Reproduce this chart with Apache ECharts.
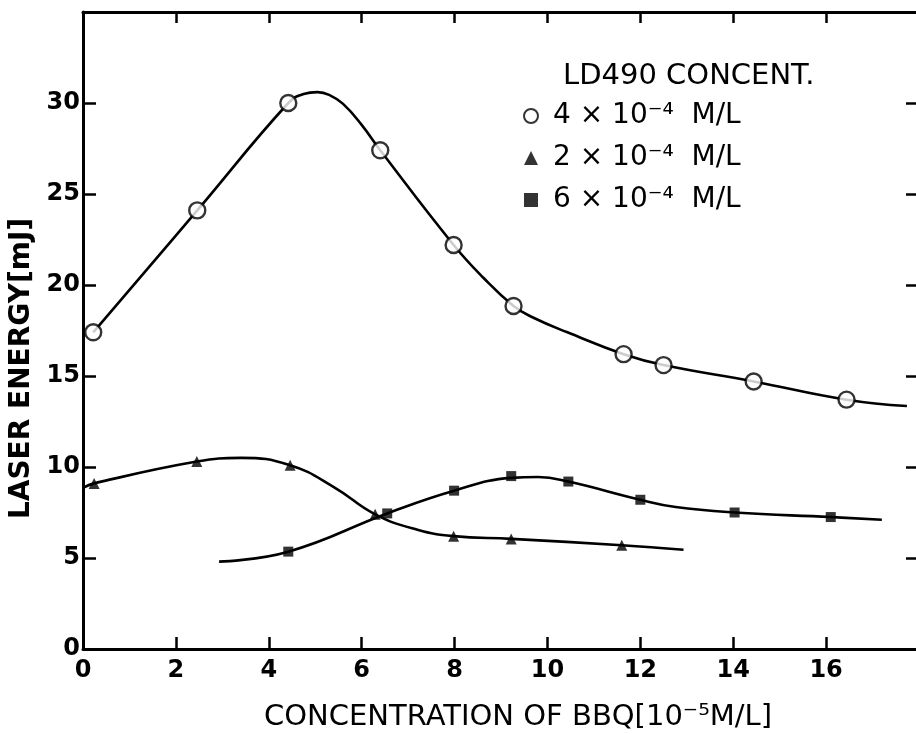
<!DOCTYPE html>
<html>
<head>
<meta charset="utf-8">
<script src="https://cdn.jsdelivr.net/npm/echarts@6/dist/echarts.min.js"></script>
<style>html,body{margin:0;padding:0;background:#fff}#c{width:916px;height:734px}</style>
</head>
<body>
<div id="c"></div>
<script>
// ---- data ----
const xTicks = [0, 2, 4, 6, 8, 10, 12, 14, 16];
const yTicks = [0, 5, 10, 15, 20, 25, 30];
const seriesNames = ['4 × 10⁻⁴  M/L', '2 × 10⁻⁴  M/L', '6 × 10⁻⁴  M/L'];

// 4x10^-4 M/L (open circles)
const circleMarkers = [[0.22,17.4],[2.46,24.1],[4.42,30.0],[6.4,27.4],[7.98,22.2],[9.27,18.85],[11.64,16.2],[12.5,15.6],[14.44,14.7],[16.44,13.7]];
const circleCurve = [[0.22,17.4],[2.46,24.1],[4.42,30.0],[4.75,30.5],[5.05,30.6],[5.3,30.45],[5.6,29.95],[6.0,28.8],[6.4,27.4],[7.98,22.2],[8.62,20.4],[9.27,18.85],[9.7,18.2],[10.43,17.4],[11.64,16.2],[12.5,15.6],[14.44,14.7],[16.44,13.7],[17.74,13.35]];

// 2x10^-4 M/L (triangles)
const triMarkers = [[0.24,9.1],[2.45,10.3],[4.46,10.1],[6.29,7.4],[7.98,6.2],[9.22,6.05],[11.6,5.7]];
const triCurve = [[0,8.85],[0.24,9.1],[2.45,10.3],[3.4,10.5],[4.46,10.1],[5.4,8.9],[6.29,7.4],[7.2,6.55],[7.98,6.2],[9.22,6.05],[11.6,5.7],[12.93,5.45]];

// 6x10^-4 M/L (squares)
const sqMarkers = [[4.42,5.35],[6.55,7.45],[7.99,8.7],[9.22,9.5],[10.45,9.2],[12.0,8.2],[14.03,7.5],[16.1,7.25]];
const sqCurve = [[2.93,4.8],[4.42,5.35],[6.55,7.45],[7.99,8.7],[9.22,9.4],[9.8,9.45],[10.45,9.2],[12.0,8.2],[12.76,7.8],[14.03,7.5],[16.1,7.25],[17.2,7.1]];

const FONT = 'DejaVu Sans';
const chart = echarts.init(document.getElementById('c'));

function curve(data) {
  return {
    type: 'line', data: data, smooth: 0.45, symbol: 'none',
    lineStyle: {color: '#000', width: 2.6}, silent: true, z: 2,
    xAxisIndex: 0, yAxisIndex: 0
  };
}

chart.setOption({
  backgroundColor: '#fff',
  animation: false,
  title: {
    text: 'LD490 CONCENT.',
    left: 558, top: 57,
    textStyle: {fontFamily: FONT, fontSize: 29, fontWeight: 'normal', color: '#000'}
  },
  legend: {
    orient: 'vertical',
    left: 518, top: 96,
    itemWidth: 14, itemHeight: 14,
    itemGap: 12,
    data: [
      {name: seriesNames[0], icon: 'circle', itemStyle: {color: '#fff', borderColor: '#000', borderWidth: 2}},
      {name: seriesNames[1], icon: 'triangle', itemStyle: {color: '#000'}},
      {name: seriesNames[2], icon: 'rect', itemStyle: {color: '#000'}}
    ],
    textStyle: {fontFamily: FONT, fontSize: 28, color: '#000', padding: [0, 0, 0, 10], lineHeight: 30}
  },
  grid: {left: 83, right: -3, top: 12, bottom: 85, containLabel: false, outerBoundsMode: 'none'},
  xAxis: [{
    type: 'value', min: 0, max: 18, interval: 2,
    name: 'CONCENTRATION OF BBQ[10⁻⁵M/L]',
    nameLocation: 'middle', nameGap: 54,
    nameTextStyle: {fontFamily: FONT, fontSize: 29, color: '#000', padding: [0, 0, 0, 34]},
    axisLine: {show: true, lineStyle: {color: '#000', width: 3}},
    axisTick: {show: true, inside: true, length: 12, lineStyle: {color: '#000', width: 2.5}},
    axisLabel: {show: true, fontFamily: FONT, fontSize: 24, fontWeight: 'bold', color: '#000', margin: 10,
      formatter: function (v) { return xTicks.indexOf(v) >= 0 ? String(v) : ''; }},
    splitLine: {show: false}
  }, {
    type: 'value', min: 0, max: 18, interval: 2, position: 'top',
    axisLine: {show: true, onZero: false, lineStyle: {color: '#000', width: 3}},
    axisTick: {show: true, inside: true, length: 11, lineStyle: {color: '#000', width: 2.5}},
    axisLabel: {show: false}, splitLine: {show: false}
  }],
  yAxis: [{
    type: 'value', min: 0, max: 35, interval: 5,
    name: 'LASER ENERGY[mJ]',
    nameLocation: 'middle', nameGap: 27, nameRotate: 90,
    nameTextStyle: {fontFamily: FONT, fontSize: 28, fontWeight: 'bold', color: '#000', padding: [0, 76, 0, 0]},
    axisLine: {show: true, lineStyle: {color: '#000', width: 3}},
    axisTick: {show: true, inside: true, length: 13, lineStyle: {color: '#000', width: 2.5}},
    axisLabel: {show: true, fontFamily: FONT, fontSize: 24, fontWeight: 'bold', color: '#000', margin: 3,
      formatter: function (v) { return yTicks.indexOf(v) >= 0 ? String(v) : ''; }},
    splitLine: {show: false}
  }, {
    type: 'value', min: 0, max: 35, interval: 5, position: 'right',
    axisLine: {show: false, onZero: false},
    axisTick: {show: true, inside: true, length: 13, lineStyle: {color: '#000', width: 2.5}},
    axisLabel: {show: false}, splitLine: {show: false}
  }],
  series: [
    curve(circleCurve), curve(triCurve), curve(sqCurve),
    {name: seriesNames[0], type: 'scatter', data: circleMarkers, symbol: 'circle', symbolSize: 16, z: 5,
      itemStyle: {color: '#fff', borderColor: '#000', borderWidth: 2.4}},
    {name: seriesNames[1], type: 'scatter', data: triMarkers, symbol: 'triangle', symbolSize: 11, z: 5,
      itemStyle: {color: '#000'}},
    {name: seriesNames[2], type: 'scatter', data: sqMarkers, symbol: 'rect', symbolSize: 10, z: 5,
      itemStyle: {color: '#000'}}
  ]
});
</script>
</body>
</html>
